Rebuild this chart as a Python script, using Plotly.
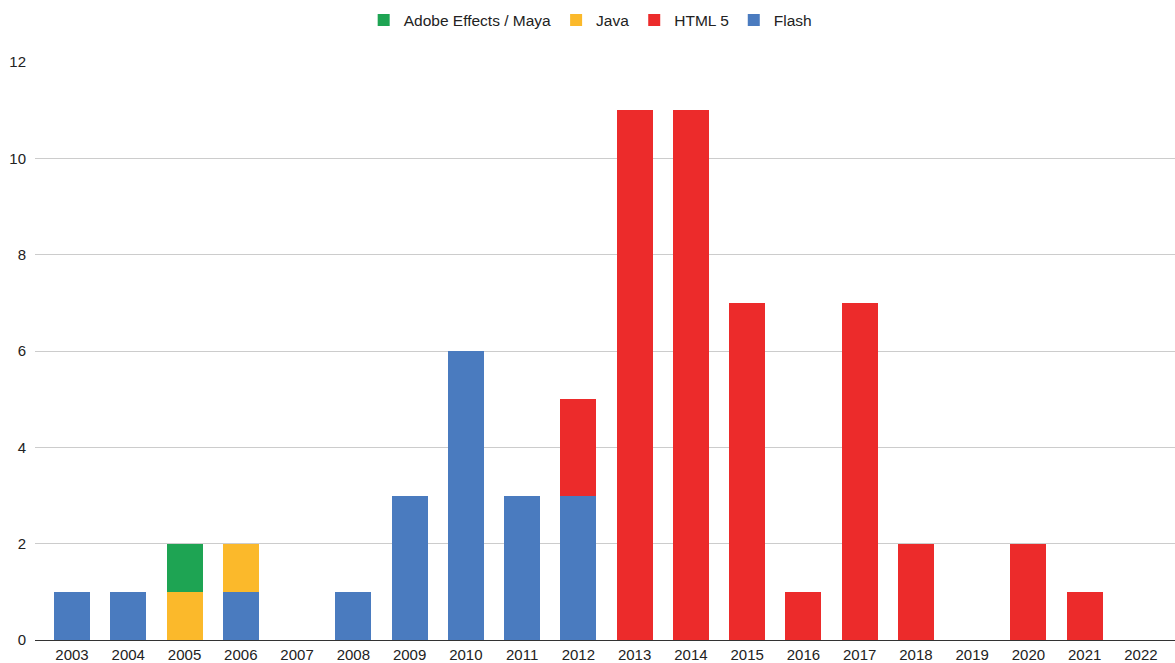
import plotly.graph_objects as go

years = [str(y) for y in range(2003, 2023)]
flash = [1, 1, 0, 1, 0, 1, 3, 6, 3, 3, 0, 0, 0, 0, 0, 0, 0, 0, 0, 0]
html5 = [0, 0, 0, 0, 0, 0, 0, 0, 0, 2, 11, 11, 7, 1, 7, 2, 0, 2, 1, 0]
java = [0, 0, 1, 1, 0, 0, 0, 0, 0, 0, 0, 0, 0, 0, 0, 0, 0, 0, 0, 0]
adobe = [0, 0, 1, 0, 0, 0, 0, 0, 0, 0, 0, 0, 0, 0, 0, 0, 0, 0, 0, 0]

series = [
    ("Flash", flash, "#4a7bbf"),
    ("HTML 5", html5, "#ec2b2b"),
    ("Java", java, "#fbb92b"),
    ("Adobe Effects / Maya", adobe, "#1ea453"),
]

fig = go.Figure()
for name, vals, col in series:
    fig.add_trace(go.Bar(x=years, y=vals, name=name, marker=dict(color=col, line=dict(width=0))))

fig.update_layout(
    barmode="stack",
    bargap=0.36,
    width=1175, height=663,
    margin=dict(l=35, r=0, t=62, b=23),
    paper_bgcolor="white", plot_bgcolor="white",
    font=dict(family="Liberation Sans, Arial, sans-serif", size=15, color="#222"),
    legend=dict(orientation="h", traceorder="reversed", x=0.487, xanchor="center",
                y=0.995, yanchor="top", yref="container", font=dict(size=15.5)),
    xaxis=dict(type="category", range=[-0.658, 19.605], showgrid=False,
               tickfont=dict(size=15), ticks="", showline=False, ticklabelstandoff=4),
    yaxis=dict(range=[0, 12], dtick=2, gridcolor="#cccccc", gridwidth=1,
               zeroline=True, zerolinecolor="#333333", zerolinewidth=1.2,
               tickfont=dict(size=15), ticks="", ticklabelstandoff=8),
)
fig.write_html("out.html", config={"displayModeBar": False},
               post_script="document.body.style.margin='0';document.body.style.overflow='hidden';")
